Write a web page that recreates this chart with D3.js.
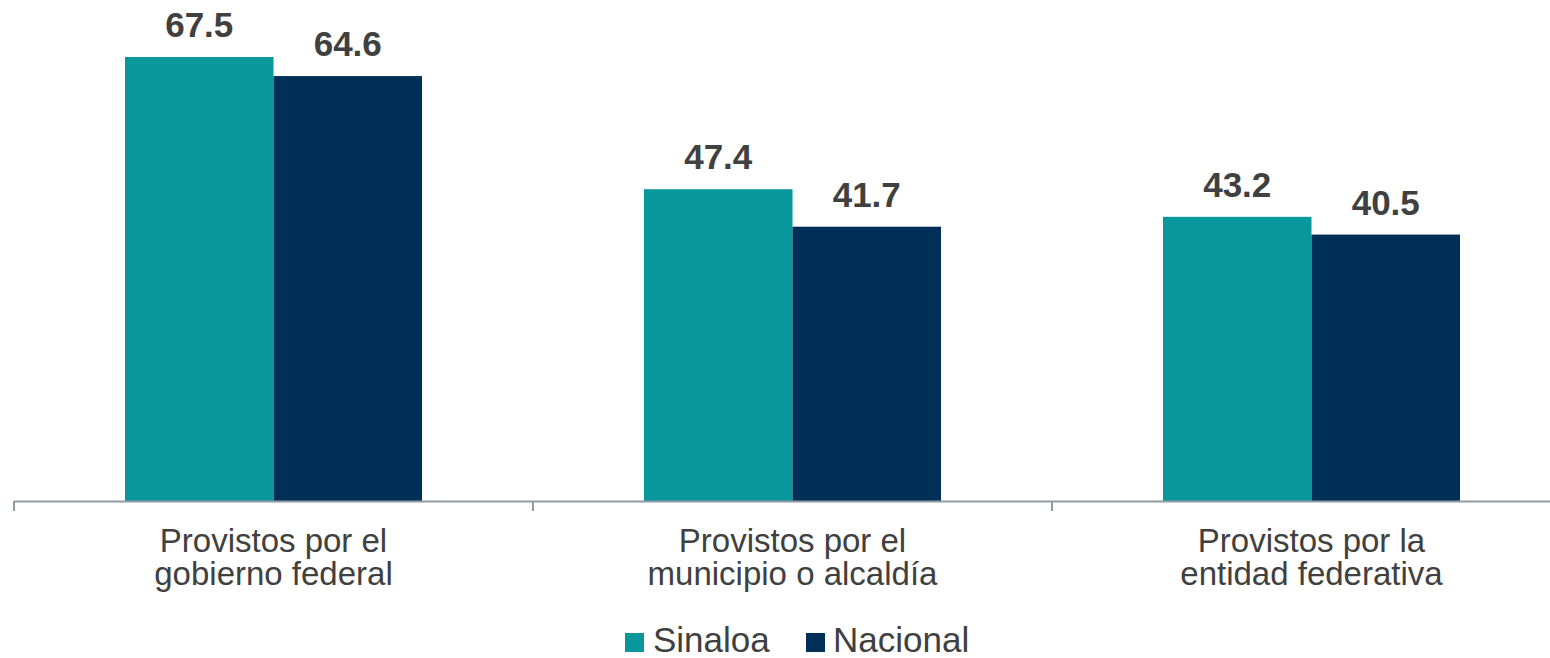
<!DOCTYPE html>
<html>
<head>
<meta charset="utf-8">
<script src="https://cdn.jsdelivr.net/npm/d3@7"></script>
<style>
  html, body { margin: 0; padding: 0; background: #fff; }
  svg { display: block; }
  text { font-family: "Liberation Sans", Arial, sans-serif; }
</style>
</head>
<body>
<svg id="chart" width="1550" height="658"></svg>
<script>
const categories = [
  ["Provistos por el", "gobierno federal"],
  ["Provistos por el", "municipio o alcaldía"],
  ["Provistos por la", "entidad federativa"]
];
const seriesNames = ["Sinaloa", "Nacional"];
const sinaloa = [67.5, 47.4, 43.2];
const nacional = [64.6, 41.7, 40.5];
const colors = ["#08979a", "#003057"];

const svg = d3.select("#chart");
const catKeys = categories.map(c => c.join(" "));
const values = [sinaloa, nacional];

const x = d3.scaleBand().domain(catKeys).range([14, 1571]).paddingInner(0).paddingOuter(0);
const x1 = d3.scaleBand().domain(seriesNames).range([0, x.bandwidth()]).paddingInner(0).paddingOuter(0.7475);
const y = d3.scaleLinear().domain([0, 70]).range([501, 501 - 70 * 6.578]);

// bars
const groups = svg.append("g").selectAll("g")
  .data(catKeys).join("g")
  .attr("transform", d => `translate(${x(d)},0)`);

groups.selectAll("rect")
  .data((d, i) => seriesNames.map((s, j) => ({ s, v: values[j][i], j })))
  .join("rect")
  .attr("x", d => x1(d.s))
  .attr("width", x1.bandwidth())
  .attr("y", d => y(d.v))
  .attr("height", d => y(0) - y(d.v))
  .attr("fill", d => colors[d.j]);

groups.selectAll("text.val")
  .data((d, i) => seriesNames.map((s, j) => ({ s, v: values[j][i], j })))
  .join("text")
  .attr("class", "val")
  .attr("x", d => x1(d.s) + x1.bandwidth() / 2)
  .attr("y", d => y(d.v) - 20)
  .attr("text-anchor", "middle")
  .attr("font-size", 35)
  .attr("font-weight", "bold")
  .attr("fill", "#404040")
  .text(d => d.v.toFixed(1));

// axis
const axis = d3.axisBottom(x).tickSize(0).tickFormat("");
const ag = svg.append("g").attr("transform", "translate(0,501)").call(axis);
ag.select(".domain").attr("stroke", "#8f9ca6").attr("stroke-width", 2);
// boundary ticks
const bounds = catKeys.map(k => x(k)).concat([x.range()[1]]);
ag.selectAll("line.bt").data(bounds).join("line")
  .attr("class", "bt")
  .attr("x1", d => d).attr("x2", d => d)
  .attr("y1", 0).attr("y2", 10)
  .attr("stroke", "#8f9ca6").attr("stroke-width", 2);

// category labels
const labelG = svg.append("g");
categories.forEach((lines, i) => {
  const t = labelG.append("text")
    .attr("x", x(catKeys[i]) + x.bandwidth() / 2)
    .attr("y", 552)
    .attr("text-anchor", "middle")
    .attr("font-size", 33)
    .attr("fill", "#404040");
  lines.forEach((ln, k) => {
    t.append("tspan")
      .attr("x", x(catKeys[i]) + x.bandwidth() / 2)
      .attr("dy", k === 0 ? 0 : 33)
      .text(ln);
  });
});

// legend
const legendItems = [
  { name: seriesNames[0], color: colors[0], sx: 625, tx: 653 },
  { name: seriesNames[1], color: colors[1], sx: 806, tx: 833 }
];
const lg = svg.append("g");
legendItems.forEach(d => {
  lg.append("rect").attr("x", d.sx).attr("y", 633).attr("width", 19).attr("height", 19).attr("fill", d.color);
  lg.append("text").attr("x", d.tx).attr("y", 652).attr("font-size", 35).attr("fill", "#404040").text(d.name);
});
</script>
</body>
</html>
